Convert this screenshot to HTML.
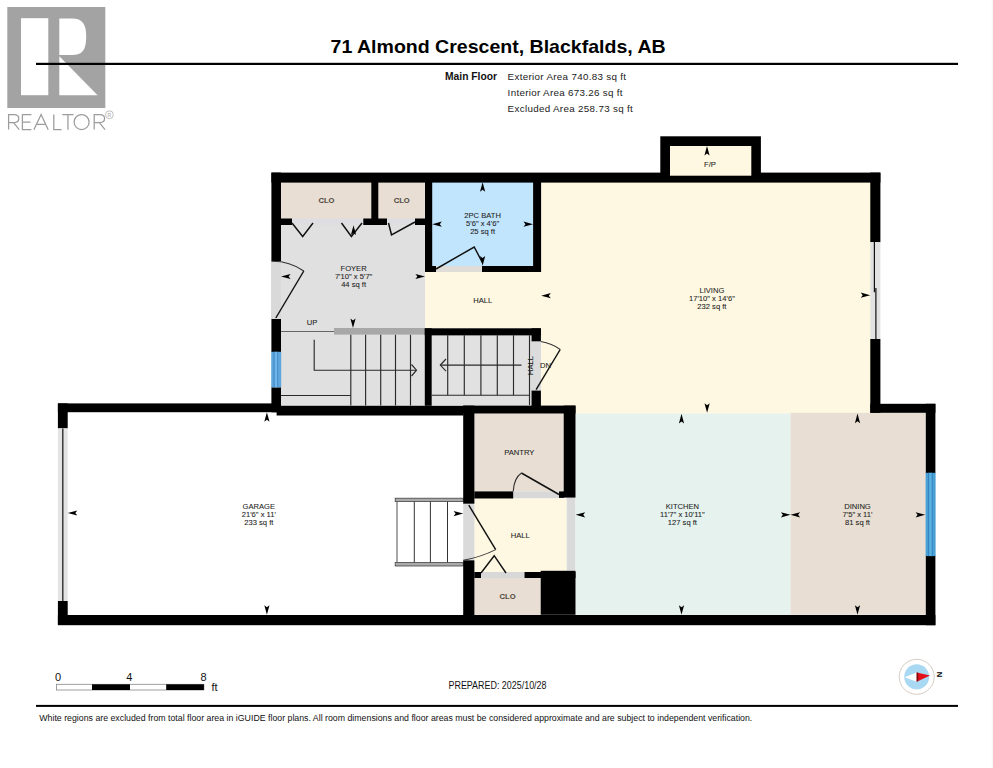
<!DOCTYPE html>
<html><head><meta charset="utf-8">
<style>
html,body{margin:0;padding:0;background:#fff;width:993px;height:768px;overflow:hidden}
svg{display:block;position:absolute;left:0;top:0}
text{font-family:"Liberation Sans",sans-serif}
</style></head><body>
<svg width="993" height="768" viewBox="0 0 993 768">
<!-- REALTOR logo -->
<rect x="7.3" y="7" width="98" height="101" fill="#a3a3a3"/>
<rect x="21" y="18.2" width="27.3" height="77" fill="#fff"/>
<path d="M59.3,18.4 H72 C82.5,18.4 86.2,24 86.2,36.7 C86.2,49.5 82.5,55 72,55 H59.3 Z" fill="#fff"/>
<path d="M59.3,56.2 L59.3,95.2 L97.6,95.2 Z" fill="#fff"/>
<g fill="none" stroke="#9c9c9c" stroke-width="1.25">
<path d="M8.6,129.6 V114.6 H14 Q18.8,114.6 18.8,118.6 Q18.8,122.6 14,122.6 H8.6 M13.6,122.6 L19.2,129.6"/>
<path d="M31.4,114.6 H22.4 V129.6 H31.4 M22.4,122 H30.4"/>
<path d="M33.9,129.8 L41.1,114.4 L48.2,129.8 M36.6,124.4 H45.5"/>
<path d="M53.8,114.4 V129.6 H61.6"/>
<path d="M62.3,114.6 H73.6 M67.95,114.6 V129.8"/>
<circle cx="81.6" cy="122.1" r="7.5"/>
<path d="M94.2,129.6 V114.6 H99.8 Q104.6,114.6 104.6,118.6 Q104.6,122.6 99.8,122.6 H94.2 M99.4,122.6 L105,129.6"/>
</g>
<circle cx="109.4" cy="114.7" r="3.9" fill="none" stroke="#a5a5a5" stroke-width="0.7"/>
<text x="109.4" y="116.6" font-size="5" fill="#a5a5a5" text-anchor="middle">R</text>

<!-- title -->
<text x="330.6" y="53" font-size="18.2" font-weight="bold" fill="#000" textLength="335" lengthAdjust="spacingAndGlyphs">71 Almond Crescent, Blackfalds, AB</text>
<rect x="36" y="62.8" width="922" height="2.2" fill="#000"/>
<text x="445" y="80.1" font-size="10" font-weight="bold" fill="#111" textLength="52" lengthAdjust="spacingAndGlyphs">Main Floor</text>
<text x="507.6" y="80.1" font-size="9.8" fill="#222" textLength="118.5" lengthAdjust="spacing">Exterior Area 740.83 sq ft</text>
<text x="507.6" y="96" font-size="9.8" fill="#222" textLength="115" lengthAdjust="spacing">Interior Area 673.26 sq ft</text>
<text x="507.6" y="112" font-size="9.8" fill="#222" textLength="125.2" lengthAdjust="spacing">Excluded Area 258.73 sq ft</text>

<!-- ROOM FILLS -->
<g id="fills">
<rect x="281" y="182" width="90.5" height="37" fill="#e8ded3"/>
<rect x="378" y="182" width="47" height="37" fill="#e8ded3"/>
<rect x="281" y="218.5" width="144" height="6.8" fill="#dedde2"/>
<rect x="281" y="225" width="144" height="181" fill="#e0e0e0"/>
<rect x="271" y="261" width="10" height="58" fill="#d9d9d9"/>
<rect x="432" y="182" width="101" height="84" fill="#c1e5fd"/>
<rect x="425" y="266" width="116" height="62.5" fill="#fef8e2"/>
<rect x="541" y="182" width="330" height="231.5" fill="#fef8e2"/>
<rect x="670" y="146" width="81" height="30" fill="#fef8e2"/>
<rect x="436" y="266" width="46" height="6" fill="#e0ddd8"/>
<rect x="431.7" y="335.4" width="99.3" height="70" fill="#e1e1e1"/>
<rect x="531" y="341" width="10" height="50" fill="#dcdcdc"/>
<rect x="474.4" y="413.5" width="89.3" height="78" fill="#e8ded3"/>
<rect x="513.2" y="491.4" width="46" height="7" fill="#d8d8d8"/>
<rect x="474.4" y="498.5" width="92.3" height="73.5" fill="#fef8e2"/>
<rect x="566.7" y="497.5" width="8.8" height="73.3" fill="#dadada"/>
<rect x="463.2" y="503.7" width="11.2" height="56.6" fill="#dadada"/>
<rect x="474.3" y="578" width="66.4" height="37" fill="#e8ded3"/>
<rect x="481" y="572" width="43.5" height="6" fill="#d8d8d8"/>
<rect x="575.5" y="413.5" width="215" height="201.5" fill="#e5f2ee"/>
<rect x="790.5" y="412.8" width="135.3" height="202" fill="#e8ded3"/>
</g>

<!-- STAIRS foyer -->
<g stroke="#2a2a2a" stroke-width="1.15" fill="none">
<line x1="281" y1="331.5" x2="334" y2="331.5" stroke="#666"/>
<line x1="350.8" y1="334.6" x2="350.8" y2="405.5"/>
<line x1="365.6" y1="334.6" x2="365.6" y2="405.5"/>
<line x1="380.7" y1="334.6" x2="380.7" y2="405.5"/>
<line x1="395.5" y1="334.6" x2="395.5" y2="405.5"/>
<line x1="410.5" y1="334.6" x2="410.5" y2="405.5"/>
<line x1="281" y1="395.5" x2="350.8" y2="395.5"/>
<polyline points="314.2,339.7 314.2,370.2 416,370.2"/>
<polyline points="411.5,364.5 416.5,370.2 411.5,376"/>
</g>
<rect x="334" y="328" width="91" height="6.6" fill="#a8a8a8"/>
<!-- STAIRS 2 -->
<g stroke="#2a2a2a" stroke-width="1.15" fill="none">
<line x1="447.7" y1="335.3" x2="447.7" y2="395.2"/>
<line x1="464.3" y1="335.3" x2="464.3" y2="395.2"/>
<line x1="480.9" y1="335.3" x2="480.9" y2="395.2"/>
<line x1="497.3" y1="335.3" x2="497.3" y2="395.2"/>
<line x1="513.5" y1="335.3" x2="513.5" y2="395.2"/>
<line x1="529.5" y1="335.3" x2="529.5" y2="405"/>
<line x1="431.7" y1="395.2" x2="529.5" y2="395.2"/>
<line x1="440.5" y1="365.1" x2="521.5" y2="365.1"/>
<polyline points="446,359 440.3,365.1 446,371.2"/>
</g>

<!-- STAIRS garage -->
<rect x="395.2" y="498.2" width="68" height="3.4" fill="#aaa" stroke="#444" stroke-width="0.8"/>
<rect x="395.2" y="562.4" width="68" height="3.6" fill="#aaa" stroke="#444" stroke-width="0.8"/>
<g stroke="#333" stroke-width="1" fill="none">
<line x1="397" y1="501.6" x2="397" y2="562.4" stroke="#777" stroke-width="1.3"/>
<line x1="414.3" y1="501.6" x2="414.3" y2="562.4"/>
<line x1="430.4" y1="501.6" x2="430.4" y2="562.4"/>
<line x1="447.5" y1="501.6" x2="447.5" y2="562.4"/>
</g>
<!-- WALLS -->
<g fill="#000">
<rect x="271.4" y="172.6" width="609" height="10"/>
<rect x="660.3" y="136.3" width="100.6" height="40"/>
<rect x="271.4" y="172.6" width="9.6" height="88.5"/>
<rect x="271.4" y="319" width="9.6" height="33"/>
<rect x="271.4" y="387.3" width="9.6" height="25"/>
<rect x="371.3" y="182" width="7" height="43"/>
<rect x="281" y="218.5" width="11" height="6.5"/>
<rect x="363.3" y="218.5" width="23.7" height="6.5"/>
<rect x="415" y="218.5" width="10" height="6.5"/>
<rect x="425" y="182" width="7.2" height="90"/>
<rect x="425" y="266" width="11" height="6"/>
<rect x="482" y="266" width="59" height="6"/>
<rect x="533.1" y="182" width="8" height="90"/>
<rect x="424.8" y="328.3" width="6.9" height="77.5"/>
<rect x="424.8" y="328.3" width="116" height="7.1"/>
<rect x="531.5" y="328.3" width="9.4" height="13"/>
<rect x="531.5" y="390.6" width="9.4" height="22"/>
<rect x="276.6" y="405.8" width="187" height="9.7"/>
<rect x="463.2" y="405.6" width="112.3" height="7.9"/>
<rect x="57.9" y="403.4" width="219" height="8.8"/>
<rect x="57.9" y="403.4" width="9.8" height="25"/>
<rect x="57.9" y="601" width="9.8" height="23.6"/>
<rect x="57.9" y="615" width="877.5" height="10.2"/>
<rect x="463.2" y="405.6" width="11.2" height="98.1"/>
<rect x="463.2" y="560.3" width="11.2" height="64"/>
<rect x="563.7" y="405.6" width="11.8" height="92"/>
<rect x="474.3" y="491.4" width="38.9" height="7.1"/>
<rect x="559" y="491.4" width="5" height="6.5"/>
<rect x="474.3" y="572" width="6.7" height="6"/>
<rect x="524.5" y="572" width="51" height="6"/>
<rect x="540.7" y="570.8" width="34.8" height="44"/>
<rect x="870.3" y="172.6" width="10.1" height="69.6"/>
<rect x="870.3" y="339" width="10.1" height="73.8"/>
<rect x="870.3" y="403.8" width="65.1" height="9"/>
<rect x="925.8" y="403.8" width="9.6" height="69.6"/>
<rect x="925.8" y="555.3" width="9.6" height="69.9"/>
</g>
<rect x="670" y="146" width="81.3" height="29.7" fill="#fef8e2"/>

<!-- WINDOWS -->
<rect x="271.2" y="351.8" width="10" height="35.5" fill="#5ea6dc"/>
<rect x="275" y="351.8" width="2.4" height="35.5" fill="#6fb6ea"/>
<rect x="273.6" y="351.8" width="0.8" height="35.5" fill="#3b86c6"/>
<rect x="277.3" y="351.8" width="0.8" height="35.5" fill="#3b86c6"/>
<rect x="925.6" y="472.8" width="10" height="83.3" fill="#4a9fd3"/>
<rect x="929.4" y="472.8" width="2.4" height="83.3" fill="#5cb2e2"/>
<rect x="928" y="472.8" width="0.8" height="83.3" fill="#2f7fbf"/>
<rect x="931.8" y="472.8" width="0.8" height="83.3" fill="#2f7fbf"/>
<rect x="870.3" y="242.2" width="10.1" height="96.8" fill="#e2e2e2"/>
<line x1="874.4" y1="241.4" x2="874.4" y2="292.3" stroke="#111" stroke-width="1.2"/>
<line x1="875.9" y1="288" x2="875.9" y2="339" stroke="#111" stroke-width="1.2"/>
<rect x="57.9" y="428.4" width="9.8" height="172.6" fill="#e4e4e4"/>
<line x1="62.8" y1="428.4" x2="62.8" y2="601" stroke="#222" stroke-width="1.3"/>

<!-- DOORS -->
<g stroke="#111" stroke-width="1.45" fill="none">
<polyline points="292,223 302.7,236.5 313,223"/>
<polyline points="341.5,223 351.4,236.5 362,223"/>
<polyline points="415,222 391.5,234.8 388.5,223"/>
<path d="M275.8,318 L303.8,271"/>
<path d="M303.8,271 A55,55 0 0 0 271.5,261.3" stroke="#333" stroke-width="1.05"/>
<polyline points="436,269 474.2,247 482.3,262.3"/>
<path d="M560.2,349.5 L536.1,389.7"/>
<path d="M540.8,341.6 Q552,343.5 560.2,349.5" stroke="#333" stroke-width="1.05"/>
<path d="M521.4,473 L559,494.5"/>
<path d="M513.2,491.4 Q514,478 521.4,473" stroke="#333" stroke-width="1.05"/>
<path d="M468.8,505.2 L495.7,549.6"/>
<path d="M495.7,549.6 Q481,557 463.3,560.3" stroke="#333" stroke-width="1.05"/>
<polyline points="481,573 494.2,555.7 506,573"/>
</g>

<!-- ARROWS -->
<g>
<path d="M0,0 L2.6,9.6 L0,7.6 L-2.6,9.6 Z" fill="#000" transform="translate(353.5,225.3) rotate(0)"/>
<path d="M0,0 L2.6,9.6 L0,7.6 L-2.6,9.6 Z" fill="#000" transform="translate(353,328) rotate(180)"/>
<path d="M0,0 L2.6,9.6 L0,7.6 L-2.6,9.6 Z" fill="#000" transform="translate(281,276.5) rotate(-90)"/>
<path d="M0,0 L2.6,9.6 L0,7.6 L-2.6,9.6 Z" fill="#000" transform="translate(425,276.5) rotate(90)"/>
<path d="M0,0 L2.6,9.6 L0,7.6 L-2.6,9.6 Z" fill="#000" transform="translate(482.6,182.2) rotate(0)"/>
<path d="M0,0 L2.6,9.6 L0,7.6 L-2.6,9.6 Z" fill="#000" transform="translate(432.2,224.2) rotate(-90)"/>
<path d="M0,0 L2.6,9.6 L0,7.6 L-2.6,9.6 Z" fill="#000" transform="translate(533.1,224.2) rotate(90)"/>
<path d="M0,0 L2.6,9.6 L0,7.6 L-2.6,9.6 Z" fill="#000" transform="translate(482.6,265.7) rotate(180)"/>
<path d="M0,0 L2.6,9.6 L0,7.6 L-2.6,9.6 Z" fill="#000" transform="translate(541.2,295.7) rotate(-90)"/>
<path d="M0,0 L2.6,9.6 L0,7.6 L-2.6,9.6 Z" fill="#000" transform="translate(707,146) rotate(0)"/>
<path d="M0,0 L2.6,9.6 L0,7.6 L-2.6,9.6 Z" fill="#000" transform="translate(870.3,295.2) rotate(90)"/>
<path d="M0,0 L2.6,9.6 L0,7.6 L-2.6,9.6 Z" fill="#000" transform="translate(707.1,412.8) rotate(180)"/>
<path d="M0,0 L2.6,9.6 L0,7.6 L-2.6,9.6 Z" fill="#000" transform="translate(681.5,413.8) rotate(0)"/>
<path d="M0,0 L2.6,9.6 L0,7.6 L-2.6,9.6 Z" fill="#000" transform="translate(575.6,514.8) rotate(-90)"/>
<path d="M0,0 L2.6,9.6 L0,7.6 L-2.6,9.6 Z" fill="#000" transform="translate(681.5,614.8) rotate(180)"/>
<path d="M0,0 L2.6,9.6 L0,7.6 L-2.6,9.6 Z" fill="#000" transform="translate(790.5,514.8) rotate(90)"/>
<path d="M0,0 L2.6,9.6 L0,7.6 L-2.6,9.6 Z" fill="#000" transform="translate(857.5,413.6) rotate(0)"/>
<path d="M0,0 L2.6,9.6 L0,7.6 L-2.6,9.6 Z" fill="#000" transform="translate(857.5,614.8) rotate(180)"/>
<path d="M0,0 L2.6,9.6 L0,7.6 L-2.6,9.6 Z" fill="#000" transform="translate(925.2,514.8) rotate(90)"/>
<path d="M0,0 L2.6,9.6 L0,7.6 L-2.6,9.6 Z" fill="#000" transform="translate(790.5,514.8) rotate(-90)"/>
<path d="M0,0 L2.6,9.6 L0,7.6 L-2.6,9.6 Z" fill="#000" transform="translate(266.9,412.2) rotate(0)"/>
<path d="M0,0 L2.6,9.6 L0,7.6 L-2.6,9.6 Z" fill="#000" transform="translate(266.9,614.8) rotate(180)"/>
<path d="M0,0 L2.6,9.6 L0,7.6 L-2.6,9.6 Z" fill="#000" transform="translate(67.7,513) rotate(-90)"/>
<path d="M0,0 L2.6,9.6 L0,7.6 L-2.6,9.6 Z" fill="#000" transform="translate(463.2,513.6) rotate(90)"/>
</g>

<!-- ROOM LABELS -->
<g font-size="7.6" fill="#1e1e1e" stroke="#1e1e1e" stroke-width="0.08" text-anchor="middle">
<text x="326.5" y="202.5" font-weight="bold" fill="#5a5249">CLO</text>
<text x="401.7" y="202.5" font-weight="bold" fill="#5a5249">CLO</text>
<text x="353.6" y="270.7">FOYER</text>
<text x="353.6" y="278.7">7'10" x 5'7"</text>
<text x="353.6" y="286.7">44 sq ft</text>
<text x="312" y="325">UP</text>
<text x="482.6" y="217.9">2PC BATH</text>
<text x="482.6" y="226">5'6" x 4'6"</text>
<text x="482.6" y="234">25 sq ft</text>
<text x="482.7" y="303">HALL</text>
<text x="711.9" y="292.6">LIVING</text>
<text x="711.9" y="300.8">17'10" x 14'6"</text>
<text x="711.9" y="308.8">232 sq ft</text>
<text x="710" y="167">F/P</text>
<text x="545.5" y="368">DN</text>
<text transform="translate(533.3,365.5) rotate(-90)">HALL</text>
<text x="519.3" y="454.5">PANTRY</text>
<text x="520.2" y="538">HALL</text>
<text x="507.6" y="599.3" font-weight="bold" fill="#5a5249">CLO</text>
<text x="682.4" y="509">KITCHEN</text>
<text x="682.4" y="517.2">11'7" x 10'11"</text>
<text x="682.4" y="525.1">127 sq ft</text>
<text x="857.5" y="509">DINING</text>
<text x="857.5" y="517.2">7'5" x 11'</text>
<text x="857.5" y="525.1">81 sq ft</text>
<text x="258.8" y="509">GARAGE</text>
<text x="258.8" y="517.2">21'6" x 11'</text>
<text x="258.8" y="525.1">233 sq ft</text>
</g>

<!-- SCALE BAR -->
<rect x="56.4" y="684.3" width="147.5" height="5.7" fill="#fff" stroke="#888" stroke-width="0.8"/>
<rect x="92" y="684.3" width="38" height="5.7" fill="#000"/>
<rect x="166.2" y="684.3" width="37.7" height="5.7" fill="#000"/>
<g font-size="11" fill="#111" text-anchor="middle">
<text x="58" y="680.5">0</text>
<text x="129.4" y="680.5">4</text>
<text x="203.6" y="680.5">8</text>
<text x="214.5" y="691">ft</text>
</g>
<text x="448.5" y="688.7" font-size="10" fill="#111" textLength="98" lengthAdjust="spacingAndGlyphs">PREPARED: 2025/10/28</text>

<!-- COMPASS -->
<circle cx="916.7" cy="676.8" r="17.5" fill="#fff" stroke="#c9c0b5" stroke-width="0.8"/>
<circle cx="916.7" cy="676.8" r="12.5" fill="#a9d9f2"/>
<path d="M904.6,677.2 L916.7,672.4 L916.7,681.7 Z" fill="#fff"/>
<path d="M916.7,672.4 L930,675.5 L916.7,681.7 Z" fill="#e3101a"/>
<path d="M916.7,672.4 L918.2,672.8 L918.2,681 L916.7,681.7 Z" fill="#7a0a0a"/>
<text transform="translate(939.6,674.4) rotate(90)" font-size="7.6" font-weight="bold" text-anchor="middle" dy="2.7">N</text>

<rect x="991.5" y="0" width="1.5" height="768" fill="#f7f7f7"/>
<!-- FOOTER -->
<rect x="36" y="704.9" width="922" height="2" fill="#000"/>
<text x="39.3" y="721" font-size="9.2" fill="#111" textLength="713" lengthAdjust="spacingAndGlyphs">White regions are excluded from total floor area in iGUIDE floor plans. All room dimensions and floor areas must be considered approximate and are subject to independent verification.</text>
</svg>
</body></html>
